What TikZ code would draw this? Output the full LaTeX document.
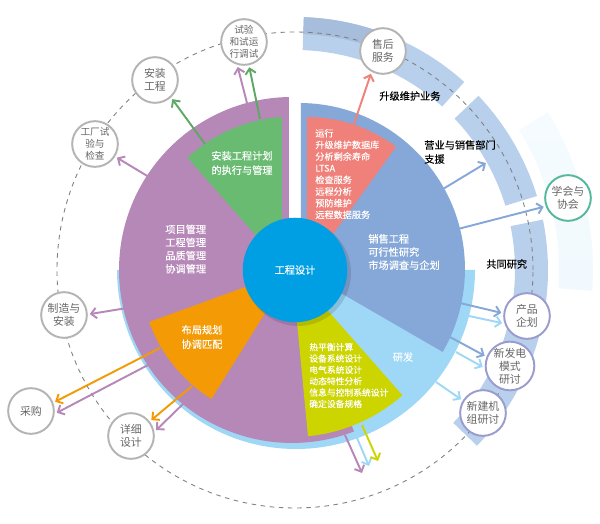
\documentclass[tikz,border=0pt]{standalone}
\usepackage{fontspec}
\setmainfont{Noto Sans CJK SC}
\newfontfamily\heavyfont[FakeBold=0.2]{Noto Sans CJK SC}
\usetikzlibrary{arrows.meta}
\definecolor{petalpurple}{HTML}{B688B8}
\definecolor{pieblue}{HTML}{86A8D8}
\definecolor{salmon}{HTML}{F0807A}
\definecolor{leafgreen}{HTML}{68BB70}
\definecolor{amber}{HTML}{F39A05}
\definecolor{lime}{HTML}{CCD500}
\definecolor{skyrim}{HTML}{9ED8F6}
\definecolor{corecyan}{HTML}{009FE3}
\definecolor{ringblue}{HTML}{B8D0EC}
\definecolor{ringdark}{HTML}{A6BEDC}
\definecolor{tagtext}{HTML}{666666}
\definecolor{taggray}{HTML}{B4B4B4}
\definecolor{tagviolet}{HTML}{9A9CCF}
\definecolor{tagteal}{HTML}{55B89A}
\tikzset{
	tag/.style={circle,draw=taggray,fill=white,line width=1.1pt,minimum size=26pt,outer sep=1.7pt,inner sep=0pt,align=center,text=tagtext,font=\fontsize{6.2}{7.4}\selectfont},
	smalltag/.style={tag,font=\fontsize{5.5}{6.8}\selectfont},
	violettag/.style={tag,draw=tagviolet},
	inlabel/.style={text=white,inner sep=0pt,align=left,anchor=west,font=\heavyfont\fontsize{5.8}{7.5}\selectfont},
	midlabel/.style={text=white,inner sep=0pt,align=center,font=\heavyfont\fontsize{5.8}{8.2}\selectfont},
	outlabel/.style={text=black,inner sep=0pt,align=left,anchor=west,font=\heavyfont\fontsize{5.8}{8}\selectfont},
	arr/.style={line width=1.1pt,-{Straight Barb[length=3pt,width=6pt]}}
}
\begin{document}
\begin{tikzpicture}[x=.02cm,y=.02cm]
	\useasboundingbox (-292,-254) rectangle (308,270);
	\begin{scope}[shift={(3,0)}]
	\fill [ringblue] (88:253) arc[start angle=88,end angle=48,radius=253] -- (48:220) arc[start angle=48,end angle=88,radius=220] -- cycle;
	\fill [ringdark] (88:253) arc[start angle=88,end angle=72,radius=253] -- (72:236) arc[start angle=72,end angle=88,radius=236] -- cycle;
	\fill [ringblue] (43.5:253) arc[start angle=43.5,end angle=17,radius=253] -- (17:220) arc[start angle=17,end angle=43.5,radius=220] -- cycle;
	\fill [ringblue] (11.5:253) arc[start angle=11.5,end angle=-44,radius=253] -- (-44:220) arc[start angle=-44,end angle=11.5,radius=220] -- cycle;
	\shade [top color=skyrim!10,middle color=skyrim!60,bottom color=skyrim!15] (32:298) arc[start angle=32,end angle=-4,radius=298] -- (-4:264) arc[start angle=-4,end angle=32,radius=264] -- cycle;
	\draw [gray,line width=.5pt,dash pattern=on 2.6pt off 2.6pt] (0,0) circle (238);
	\end{scope}
	\fill [skyrim] (4,0) -- +(0:179) arc[start angle=0,end angle=-180,radius=179] -- cycle;
	\fill [petalpurple] (-3,0) -- (-3,173) arc[start angle=91,end angle=291,radius=173] -- cycle;
	\fill [pieblue] (9,0) -- (9,167) arc[start angle=89.3,end angle=-30,radius=166] -- cycle;
	\fill [salmon] (15,0) -- (15,153) arc[start angle=90,end angle=53,radius=148] -- cycle;
	\fill [leafgreen] (-10,5) -- (-10,153) arc[start angle=93.7,end angle=133,radius=153] -- cycle;
	\fill [amber] (0,0) -- (200:152) arc[start angle=200,end angle=238,radius=152] -- cycle;
	\fill [lime] (0,0) -- (-84.5:167) arc[start angle=-84.5,end angle=-48.6,radius=167] -- cycle;
	\fill [black,opacity=.12] (6,-3) circle (53);
	\path
	(3,0) node [circle,fill=corecyan,minimum size=59.5pt,inner sep=0pt,text=white,font=\heavyfont\fontsize{5.8}{7}\selectfont] (core) {工程设计}
	(23,96) node [inlabel,font=\heavyfont\fontsize{5.2}{6.63}\selectfont] (opslist) {运行\\升级维护数据库\\分析剩余寿命\\LTSA\\检查服务\\远程分析\\预防维护\\远程数据服务}
	(17,-105.5) node [inlabel,font=\heavyfont\fontsize{5}{6.46}\selectfont] (calclist) {热平衡计算\\设备系统设计\\电气系统设计\\动态特性分析\\信息与控制系统设计\\确定设备规格}
	(-127,21) node [inlabel] (mgmtlist) {项目管理\\工程管理\\品质管理\\协调管理}
	(76,18) node [inlabel] (saleslist) {销售工程\\可行性研究\\市场调查与企划}
	(111,-87) node [midlabel] (rdlabel) {研发}
	(-90,-67) node [midlabel] (layoutlabel) {布局规划\\协调匹配}
	(-50,107) node [midlabel] (planlabel) {安装工程计划\\的执行与管理}
	(87,174) node [outlabel] (upgradelabel) {升级维护业务}
	(132,118) node [outlabel] (supportlabel) {营业与销售部门\\支援}
	(194,6) node [outlabel] (jointlabel) {共同研究}
	;
	\path
	(-48,228) node [smalltag] (trial) {试验\\和试运\\行调试}
	(91,219) node [tag] (aftersale) {售后\\服务}
	(-137,190) node [tag] (install) {安装\\工程}
	(-197,126) node [smalltag] (shoptest) {工厂试\\验与\\检查}
	(-228,-45) node [tag] (build) {制造与\\安装}
	(-261,-141) node [tag] (purchase) {采购}
	(-161,-166) node [tag] (detail) {详细\\设计}
	(191,-143) node [violettag] (newunit) {新建机\\组研讨}
	(218,-96) node [violettag] (newmode) {新发电\\模式\\研讨}
	(235,-46) node [violettag] (product) {产品\\企划}
	(276,72) node [tag,draw=tagteal] (society) {学会与\\协会}
	;
	\coordinate (sa) at (61,143);
	\coordinate (tp) at (-45,167);
	\coordinate (tg) at (-32,151);
	\coordinate (ig) at (-87,126);
	\coordinate (sp) at (-143,93);
	\coordinate (bp) at (-165,-38);
	\coordinate (po) at (-132,-78);
	\coordinate (pp) at (-142,-94);
	\coordinate (do) at (-100,-116);
	\coordinate (dp) at (-108,-133);
	\coordinate (lp) at (53,-165);
	\coordinate (lpe) at (70,-203);
	\coordinate (ls) at (65,-168);
	\coordinate (lse) at (77,-196);
	\coordinate (ly) at (70,-155);
	\coordinate (lye) at (86,-191);
	\coordinate (us) at (144,-112);
	\coordinate (mb) at (158,-67);
	\coordinate (ms) at (164,-82);
	\coordinate (pb) at (168,-33);
	\coordinate (ps) at (177,-46);
	\coordinate (rb) at (151,81);
	\coordinate (rbe) at (194,107);
	\coordinate (cb) at (166,41);
	\draw [arr,salmon] (sa)--(aftersale.242);
	\draw [arr,petalpurple] (tp)--(trial.256);
	\draw [arr,leafgreen!90!black] (tg)--(trial.282);
	\draw [arr,leafgreen!90!black] (ig)--(install.312);
	\draw [arr,petalpurple] (sp)--(shoptest.328);
	\draw [arr,petalpurple] (bp)--(build.2);
	\draw [arr,amber] (po)--(purchase.21);
	\draw [arr,petalpurple] (pp)--(purchase.356);
	\draw [arr,amber] (do)--(detail.38);
	\draw [arr,petalpurple] (dp)--(detail.13);
	\draw [arr,petalpurple] (lp)--(lpe);
	\draw [arr,skyrim] (ls)--(lse);
	\draw [arr,lime] (ly)--(lye);
	\draw [arr,skyrim] (us)--(newunit.148);
	\draw [arr,pieblue] (mb)--(newmode.158);
	\draw [arr,skyrim] (ms)--(newmode.182);
	\draw [arr,pieblue] (pb)--(product.173);
	\draw [arr,skyrim] (ps)--(product.196);
	\draw [arr,pieblue] (rb)--(rbe);
	\draw [arr,pieblue] (cb)--(society.200);
\end{tikzpicture}
\end{document}
